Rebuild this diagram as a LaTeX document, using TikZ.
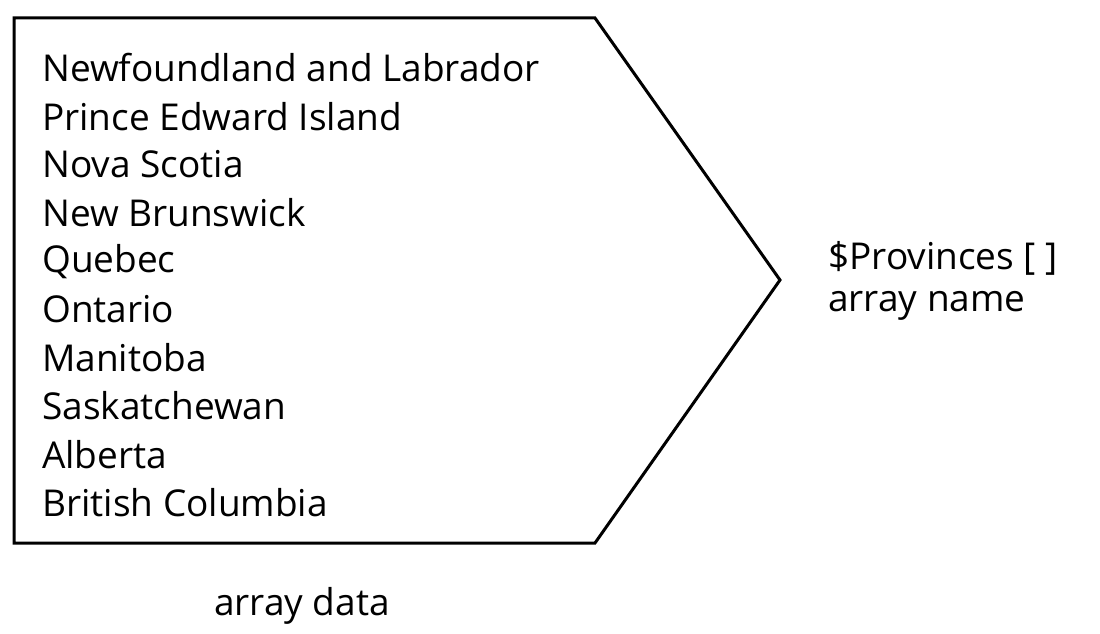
\documentclass[tikz,border=0pt]{standalone}
\usepackage{fontspec}
\setmainfont{Open Sans}
\usetikzlibrary{positioning}
\tikzset{textbox/.style={draw=none,color=black,font=\fontsize{37}{44}\selectfont,inner sep=0pt,anchor=west}}

\begin{document}
\begin{tikzpicture}[x=1pt,y=-1pt]
        \useasboundingbox (0,0) rectangle (1100,634);
        \coordinate (tl) at (14,18);
        \coordinate (tr) at (595,18);
        \coordinate (tip) at (780,280);
        \coordinate (br) at (595,543);
        \coordinate (bl) at (14,543);
        \draw[line width=3pt,line join=miter] (tl) -- (tr) -- (tip) -- (br) -- (bl) -- cycle;

        \foreach \name [count=\i] in {Newfoundland and Labrador,Prince Edward Island,Nova Scotia,New Brunswick,Quebec,Ontario,Manitoba,Saskatchewan,Alberta,British Columbia}
            \node[textbox] (prov\i) at (42,{68+(\i-1)*48.3}) {\name};

        \node[textbox] (arrname) at (828,258) {\$Provinces [ ]};
        \node[textbox] (arrlabel) at (828,306) {array name};
        \node[textbox,anchor=center] (arrdata) at (302,606) {array data};
    \end{tikzpicture}
\end{document}
